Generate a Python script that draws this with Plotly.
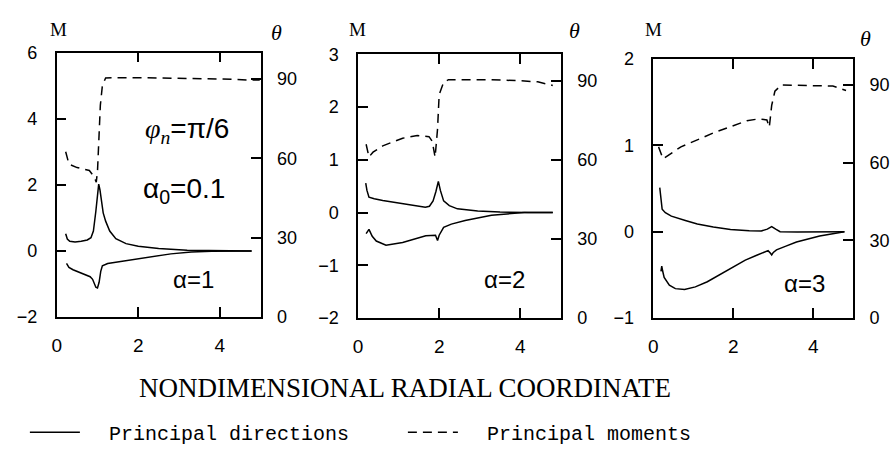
import plotly.graph_objects as go

W, H = 896, 452

# ---- alpha = 1 ----
dir1_upper_r = [0.22, 0.26, 0.32, 0.45, 0.6, 0.75, 0.84, 0.9, 0.96, 1.0, 1.03, 1.06, 1.09, 1.14, 1.2, 1.3, 1.45, 1.7, 2.0, 2.5, 3.2, 4.0, 4.78]
dir1_upper_m = [0.52, 0.36, 0.29, 0.27, 0.29, 0.33, 0.4, 0.6, 1.2, 1.77, 2.02, 1.85, 1.55, 1.15, 0.9, 0.6, 0.37, 0.22, 0.14, 0.07, 0.02, 0.0, 0.0]
dir1_lower_r = [0.24, 0.3, 0.4, 0.55, 0.72, 0.82, 0.88, 0.93, 0.96, 1.0, 1.04, 1.08, 1.12, 1.25, 1.45, 2.0, 2.5, 2.8, 3.3, 3.8, 4.78]
dir1_lower_m = [-0.38, -0.5, -0.57, -0.64, -0.71, -0.78, -0.86, -1.0, -1.1, -1.12, -0.95, -0.62, -0.45, -0.38, -0.34, -0.24, -0.15, -0.09, -0.03, -0.01, 0.0]
mom1_r = [0.22, 0.3, 0.5, 0.8, 0.92, 0.97, 1.0, 1.03, 1.07, 1.12, 1.2, 2.0, 3.0, 4.0, 4.75, 4.98]
mom1_t = [62.5, 57.8, 56.5, 55.4, 53.0, 51.0, 55.0, 65.0, 80.0, 87.5, 90.4, 90.5, 90.3, 90.0, 89.6, 89.6]

# ---- alpha = 2 ----
dir2_upper_r = [0.19, 0.22, 0.27, 0.4, 0.61, 1.1, 1.66, 1.76, 1.85, 1.92, 1.98, 2.03, 2.11, 2.25, 2.45, 2.95, 3.5, 4.2, 4.8]
dir2_upper_m = [0.56, 0.42, 0.29, 0.26, 0.23, 0.17, 0.1, 0.12, 0.22, 0.4, 0.59, 0.42, 0.22, 0.13, 0.07, 0.03, 0.01, 0.0, 0.0]
dir2_lower_r = [0.2, 0.27, 0.35, 0.45, 0.69, 1.1, 1.67, 1.91, 1.96, 2.0, 2.11, 2.3, 2.64, 3.29, 4.1, 4.8]
dir2_lower_m = [-0.40, -0.32, -0.45, -0.54, -0.62, -0.57, -0.44, -0.43, -0.53, -0.43, -0.28, -0.22, -0.15, -0.05, 0.0, 0.0]
mom2_r = [0.2, 0.27, 0.37, 0.61, 1.1, 1.46, 1.75, 1.83, 1.9, 1.96, 2.0, 2.11, 2.23, 3.28, 4.0, 4.43, 4.8]
mom2_t = [65.9, 61.1, 62.9, 65.3, 68.2, 69.2, 68.8, 67.0, 61.0, 71.7, 84.7, 89.4, 90.4, 90.4, 90.0, 89.6, 88.2]

# ---- alpha = 3 ----
dir3_upper_r = [0.16, 0.19, 0.22, 0.3, 0.45, 0.8, 1.1, 1.5, 1.93, 2.4, 2.7, 2.85, 2.96, 3.06, 3.17, 3.6, 4.2, 4.78]
dir3_upper_m = [0.51, 0.38, 0.26, 0.22, 0.18, 0.13, 0.09, 0.055, 0.025, 0.012, 0.008, 0.03, 0.06, 0.03, 0.0, -0.005, 0.0, 0.0]
dir3_lower_r = [0.19, 0.21, 0.23, 0.27, 0.4, 0.55, 0.78, 1.05, 1.35, 1.65, 1.93, 2.3, 2.6, 2.87, 2.93, 2.96, 3.0, 3.08, 3.3, 3.58, 4.16, 4.78]
dir3_lower_m = [-0.46, -0.4, -0.45, -0.53, -0.62, -0.66, -0.67, -0.64, -0.58, -0.5, -0.42, -0.33, -0.27, -0.22, -0.25, -0.27, -0.24, -0.21, -0.17, -0.12, -0.05, 0.0]
mom3_r = [0.13, 0.24, 0.69, 1.52, 2.34, 2.63, 2.84, 2.9, 2.96, 3.04, 3.2, 4.0, 4.49, 4.82]
mom3_t = [66.1, 61.5, 66.1, 71.6, 76.2, 76.9, 76.5, 73.7, 82.1, 87.6, 90.0, 89.8, 89.6, 87.9]

# axis tick values
r_ticks = [0, 2, 4]
theta_ticks = [0, 30, 60, 90]
m_ticks = [[-2, 0, 2, 4, 6], [-2, -1, 0, 1, 2, 3], [-1, 0, 1, 2]]
m_ranges = [[-2, 6], [-2, 3], [-1, 2]]
alpha_labels = ["α=1", "α=2", "α=3"]

# panel frames in pixels: (left, right, top, bottom)
frames = [(52, 257, 45, 325), (355, 559, 47, 326), (652, 853, 52, 326)]

panels = [
    (dir1_upper_r, dir1_upper_m, dir1_lower_r, dir1_lower_m, mom1_r, mom1_t),
    (dir2_upper_r, dir2_upper_m, dir2_lower_r, dir2_lower_m, mom2_r, mom2_t),
    (dir3_upper_r, dir3_upper_m, dir3_lower_r, dir3_lower_m, mom3_r, mom3_t),
]

SOLID = dict(color="black", width=1.5)
DASHED = dict(color="black", width=1.5, dash="9px,6px")
TICKFONT = dict(family="Liberation Sans, Arial, sans-serif", size=18, color="black")
NBSP = "\u00a0"

fig = go.Figure()
layout = {}

for i, (ur, um, lr, lm, mr, mt) in enumerate(panels):
    xa = "x" if i == 0 else f"x{i + 1}"
    ym = "y" if i == 0 else f"y{2 * i + 1}"
    yt = f"y{2 * i + 2}"
    first = i == 0
    fig.add_trace(go.Scatter(x=ur, y=um, mode="lines", line=SOLID, xaxis=xa, yaxis=ym,
                             name=NBSP * 2 + "Principal directions", legendgroup="dir", showlegend=first))
    fig.add_trace(go.Scatter(x=lr, y=lm, mode="lines", line=SOLID, xaxis=xa, yaxis=ym,
                             name=NBSP * 2 + "Principal directions", legendgroup="dir", showlegend=False))
    fig.add_trace(go.Scatter(x=mr, y=mt, mode="lines", line=DASHED, xaxis=xa, yaxis=yt,
                             name=NBSP * 2 + "Principal moments", legendgroup="mom", showlegend=first))

    l, r, t, b = frames[i]
    xdom = [l / W, r / W]
    ydom = [1 - b / H, 1 - t / H]
    xkey = "xaxis" if i == 0 else f"xaxis{i + 1}"
    ymkey = "yaxis" if i == 0 else f"yaxis{2 * i + 1}"
    ytkey = f"yaxis{2 * i + 2}"

    tick_style = dict(ticks="inside", ticklen=10, tickwidth=1.5, tickcolor="black",
                      showline=True, linecolor="black", linewidth=1.5,
                      showgrid=False, zeroline=False)

    layout[xkey] = dict(
        domain=xdom, anchor=ym, range=[0, 5], tickmode="array", tickvals=r_ticks,
        mirror="ticks", ticklabelstandoff=10,
        tickfont=dict(family="Liberation Sans Narrow, Liberation Sans, sans-serif", size=19, color="black"),
        **tick_style,
    )
    layout[ymkey] = dict(
        domain=ydom, anchor=xa, range=m_ranges[i], tickmode="array", tickvals=m_ticks[i],
        ticklabelstandoff=14, tickfont=TICKFONT, **tick_style,
    )
    layout[ytkey] = dict(
        overlaying=ym, anchor=xa, side="right", range=[0, 100], tickmode="array",
        tickvals=theta_ticks, ticklabelstandoff=11, tickfont=TICKFONT, **tick_style,
    )

annotations = []


def note(text, px, py, size, family, xanchor="center"):
    annotations.append(dict(
        text=text, x=px / W, y=1 - py / H, xref="paper", yref="paper",
        xanchor=xanchor, yanchor="middle", showarrow=False,
        font=dict(family=family, size=size, color="black"),
    ))


SERIF = "Liberation Serif, Times New Roman, serif"
SANS = "Liberation Sans, Arial, sans-serif"

# axis name labels above each frame
for mx, tx, ty in [(54, 273, 24), (354, 573, 22), (652, 865, 30)]:
    note("M", mx, 21, 19, SERIF)
    note("<i>θ</i>", tx, ty, 22, SERIF)

# parameter labels
note('<span style="font-family:Liberation Serif"><i>φ</i><sub><i>n</i></sub></span>=π/6', 183, 128, 28, SANS)
note("α<sub>0</sub>=0.1", 180, 191, 28, SANS)
for lab, (px, py) in zip(alpha_labels, [(190, 285), (502, 285), (804, 290)]):
    note(lab, px, py, 24, SANS)

# common abscissa title
note("NONDIMENSIONAL RADIAL COORDINATE", 402, 400, 27, SERIF)

fig.update_layout(
    width=W, height=H,
    margin=dict(l=0, r=0, t=0, b=0),
    paper_bgcolor="white", plot_bgcolor="white",
    annotations=annotations,
    showlegend=True,
    legend=dict(
        orientation="h", x=20 / W, y=1 - 447 / H, xanchor="left", yanchor="middle",
        font=dict(family="Liberation Mono, DejaVu Sans Mono, monospace", size=20, color="black"),
        entrywidth=313, entrywidthmode="pixels", itemwidth=50,
        bgcolor="rgba(0,0,0,0)", borderwidth=0,
    ),
    **layout,
)

fig.write_html("out.html")
